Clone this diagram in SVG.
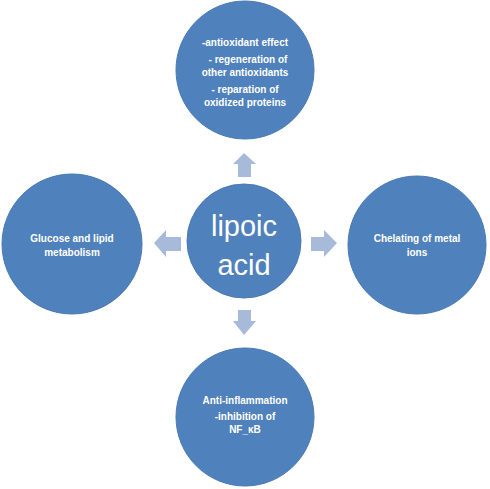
<svg xmlns="http://www.w3.org/2000/svg" width="490" height="489" viewBox="0 0 490 489">
<style>
.c{fill:#4F81BD;stroke:#4A7AB3;stroke-width:1}
.a{fill:#A7BADA}
.t{fill:#FFFFFF;font-family:"Liberation Sans",Arial,sans-serif;font-weight:bold;font-size:10px;text-anchor:middle}
.big{fill:#FFFFFF;font-family:"Liberation Sans",Arial,sans-serif;font-size:29px;text-anchor:middle}
</style>
<rect width="490" height="489" fill="#FFFFFF"/>
<g id="connectors">
<polygon class="a" points="244,153 256,164 251,164 251,177 238,177 238,164 233,164"/>
<polygon class="a" points="244,335 256,321 251,321 251,310 238,310 238,321 233,321"/>
<polygon class="a" points="154,243 166,230 166,237 181,237 181,251 166,251 166,257"/>
<polygon class="a" points="337,243 324,230 324,237 311,237 311,251 324,251 324,257"/>
</g>
<g id="center">
<circle class="c" cx="244" cy="241" r="57"/>
<text class="big" x="244" y="236">lipoic</text>
<text class="big" x="244" y="275">acid</text>
</g>
<g id="top">
<circle class="c" cx="245" cy="70" r="69"/>
<text class="t" x="245" y="46">-antioxidant effect</text>
<text class="t" x="248" y="63">- regeneration of</text>
<text class="t" x="245" y="76">other antioxidants</text>
<text class="t" x="245" y="93">- reparation of</text>
<text class="t" x="245" y="106">oxidized proteins</text>
</g>
<g id="left">
<circle class="c" cx="72" cy="244" r="70"/>
<text class="t" x="72" y="242">Glucose and lipid</text>
<text class="t" x="72" y="256">metabolism</text>
</g>
<g id="right">
<circle class="c" cx="417" cy="245" r="69"/>
<text class="t" x="417" y="242">Chelating of metal</text>
<text class="t" x="417" y="256">ions</text>
</g>
<g id="bottom">
<circle class="c" cx="245" cy="417" r="69"/>
<text class="t" x="245" y="404">Anti-inflammation</text>
<text class="t" x="245" y="420">-inhibition of</text>
<text class="t" x="245" y="433">NF_κB</text>
</g>
</svg>
